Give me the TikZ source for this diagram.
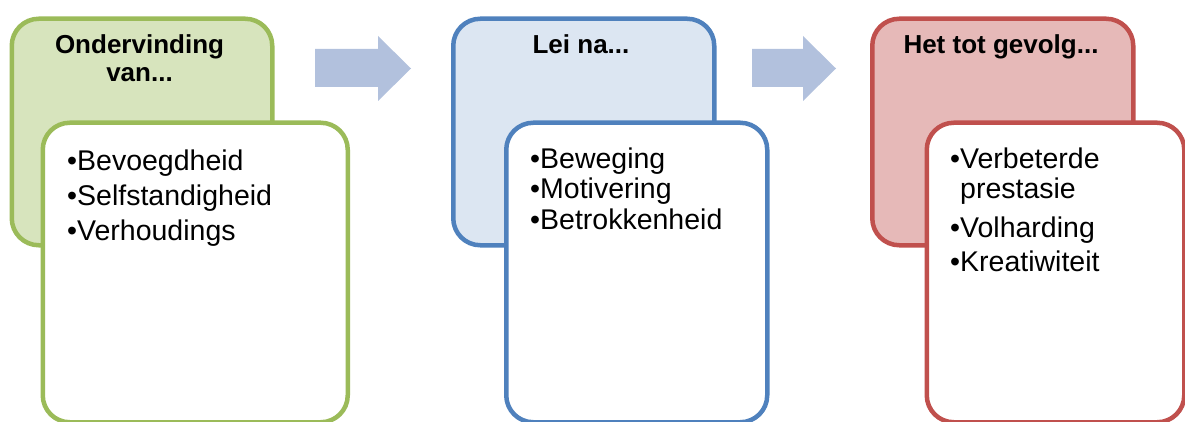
\documentclass[tikz,border=0pt]{standalone}
\usepackage{fontspec}
\setmainfont{Liberation Sans}
\usepackage{tikz}
\usetikzlibrary{positioning,calc}
\usepackage{xcolor}

\definecolor{grnline}{HTML}{9BBB59}
\definecolor{grnfill}{HTML}{D7E4BD}
\definecolor{bluline}{HTML}{4F81BD}
\definecolor{blufill}{HTML}{DCE6F2}
\definecolor{redline}{HTML}{C0504D}
\definecolor{redfill}{HTML}{E6B9B8}
\definecolor{arrfill}{HTML}{B2C1DD}

\begin{document}
\begin{tikzpicture}[x=1pt, y=-1pt,
    card/.style={draw, line width=4.5pt, rounded corners=27pt, anchor=north west, inner sep=0pt},
    head/.style={anchor=base, inner sep=0pt, font=\fontsize{26}{28}\selectfont\bfseries},
    item/.style={anchor=base west, inner sep=0pt, font=\fontsize{28.5}{34}\selectfont},
    blockarrow/.style={fill=arrfill}]
            \useasboundingbox (0,0) rectangle (1185,422);

            % Ondervinding group
            \node[card, draw=grnline, fill=grnfill, minimum width=260.5pt, minimum height=226.5pt] (ondBack) at (9.5,16.5) {};
            \node[card, draw=grnline, fill=white, minimum width=305pt, minimum height=299.5pt] (ondFront) at (40.5,120.5) {};
            \node[head] (ondHead1) at (139.5,54) {Ondervinding};
            \node[head] (ondHead2) at (139.5,82) {van...};
            \foreach \txt [count=\i] in {Bevoegdheid, Selfstandigheid, Verhoudings}
                \node[item] (ond\i) at (67,{170.7+34.7*(\i-1)}) {•\txt};

            % first arrow
            \fill[blockarrow] (315,49) -- (378,49) -- (378,36) -- (411,68.5) -- (378,101) -- (378,87) -- (315,87) -- cycle;

            % Lei na group
            \node[card, draw=bluline, fill=blufill, minimum width=261pt, minimum height=226.5pt] (leiBack) at (451,16.5) {};
            \node[card, draw=bluline, fill=white, minimum width=261pt, minimum height=299.5pt] (leiFront) at (504,120.5) {};
            \node[head] (leiHead) at (581,53.3) {Lei na...};
            \foreach \txt [count=\i] in {Beweging, Motivering, Betrokkenheid}
                \node[item] (lei\i) at (530,{168+30.5*(\i-1)}) {•\txt};

            % second arrow
            \fill[blockarrow] (752,49) -- (803,49) -- (803,36) -- (836,68.5) -- (803,101) -- (803,87) -- (752,87) -- cycle;

            % Het tot gevolg group
            \node[card, draw=redline, fill=redfill, minimum width=261pt, minimum height=226.5pt] (gevBack) at (870,16.5) {};
            \node[card, draw=redline, fill=white, minimum width=257.5pt, minimum height=299.5pt] (gevFront) at (924.5,120.5) {};
            \node[head] (gevHead) at (1001,53.3) {Het tot gevolg...};
            \node[item] (gev1) at (950,168.3) {•Verbeterde};
            \node[item] (gev1b) at (960,198.3) {prestasie};
            \node[item] (gev2) at (950,237.3) {•Volharding};
            \node[item] (gev3) at (950,271.7) {•Kreatiwiteit};
        \end{tikzpicture}
\end{document}
